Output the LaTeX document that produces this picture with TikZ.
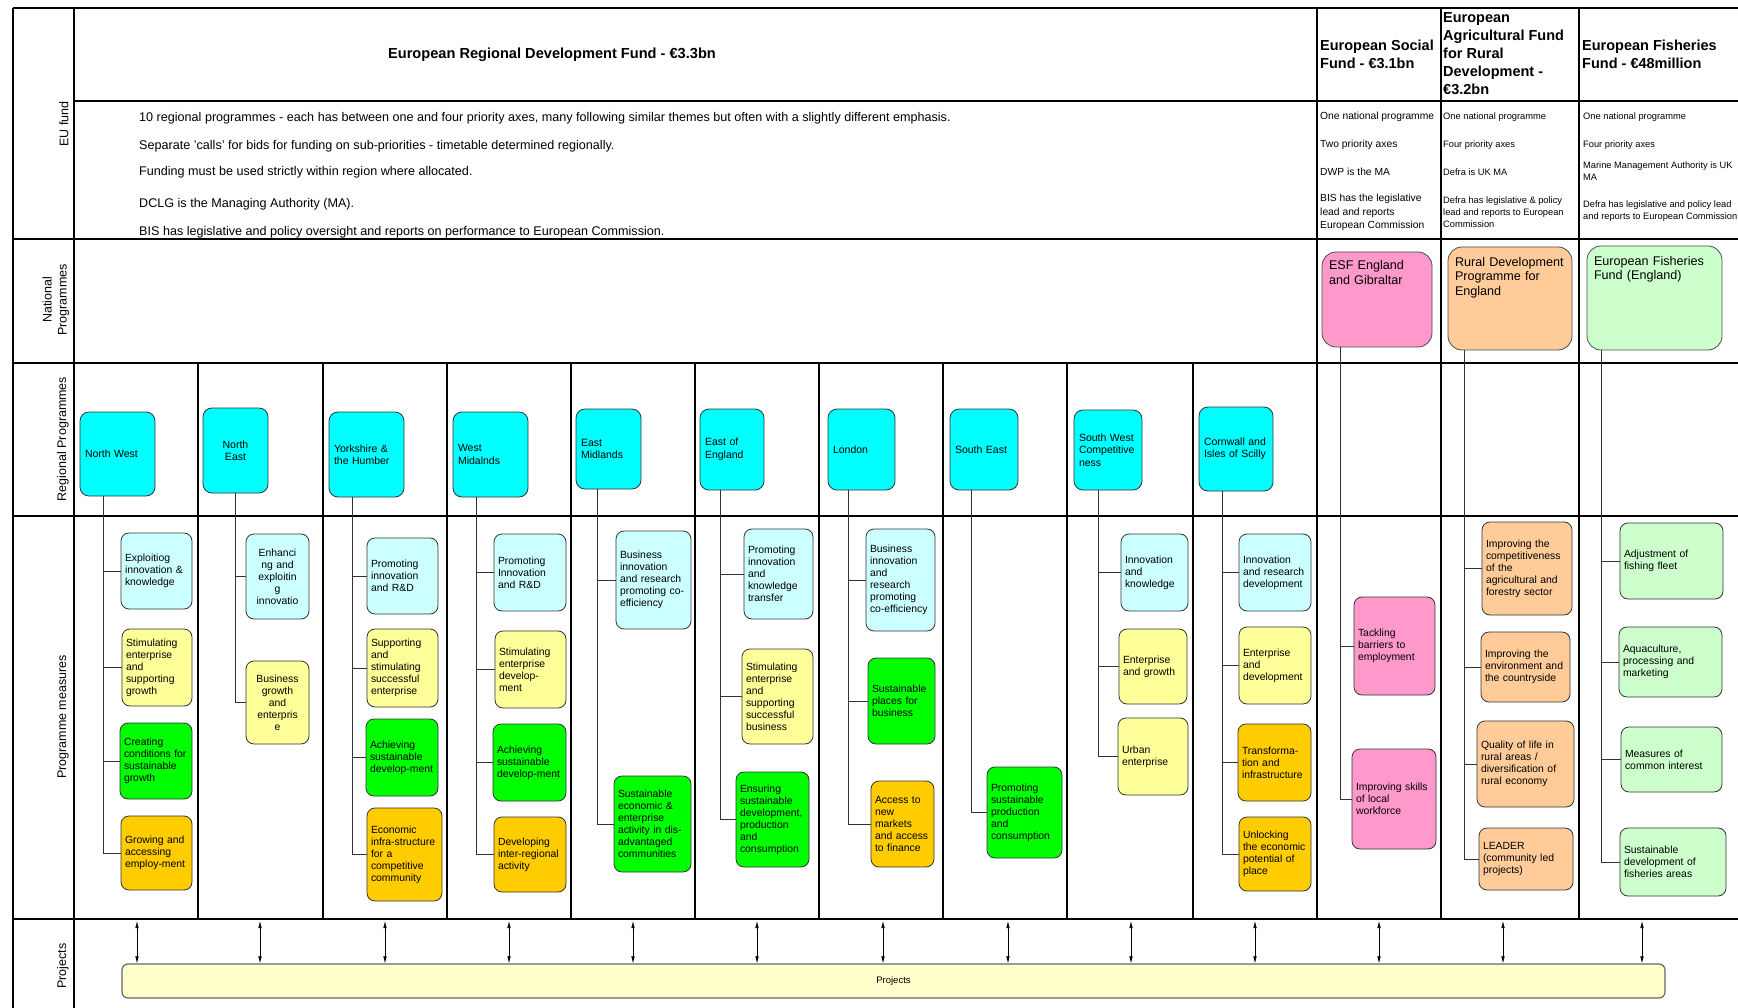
\documentclass[tikz,border=0pt]{standalone}
\usepackage{fontspec}
\setmainfont{Liberation Sans}
\usetikzlibrary{arrows.meta}
\hyphenpenalty=10000
\exhyphenpenalty=10000
\definecolor{regcyan}{HTML}{00FFFF}
\definecolor{mcyan}{HTML}{CCFFFF}
\definecolor{myellow}{HTML}{FFFF99}
\definecolor{mgreen}{HTML}{00FF00}
\definecolor{morange}{HTML}{FFCC00}
\definecolor{mpink}{HTML}{FF99CC}
\definecolor{mpeach}{HTML}{FFCC99}
\definecolor{mlgreen}{HTML}{CCFFCC}
\definecolor{prjyellow}{HTML}{FFFFCC}
\tikzset{
  gridline/.style={line width=1.5pt},
  feed/.style={draw=black!80, line width=0.8pt},
  twoway/.style={{Latex[length=7pt,width=3.5pt]}-{Latex[length=7pt,width=3.5pt]}, line width=0.6pt},
  rowlabel/.style={rotate=90, align=center, inner sep=0pt, font=\fontsize{12.5}{15}\selectfont},
  fundhead/.style={anchor=west, align=left, inner sep=0pt, font=\bfseries\fontsize{14.5}{18}\selectfont},
  erdfnote/.style={anchor=west, inner sep=0pt, font=\fontsize{12.6}{15}\selectfont},
  esfnote/.style={anchor=west, align=left, inner sep=0pt, font=\fontsize{10.3}{13.5}\selectfont},
  fundnote/.style={anchor=west, align=left, inner sep=0pt, font=\fontsize{9.3}{11.8}\selectfont},
  regbox/.style={draw=black!80, line width=0.8pt, fill=regcyan, rounded corners=9pt, align=left, inner xsep=5pt, font=\fontsize{10.5}{12.5}\selectfont},
  natbox/.style={draw=black!70, line width=0.8pt, rounded corners=14pt, align=left, inner xsep=7pt, text height=10pt, font=\fontsize{12.6}{14.5}\selectfont},
  measure/.style={draw=black!80, line width=0.8pt, rounded corners=8pt, align=left, inner xsep=4pt, font=\fontsize{10.4}{12}\selectfont}
}
\begin{document}
\begin{tikzpicture}[x=1pt,y=-1pt]
\useasboundingbox (0,0) rectangle (1738,1008);
\draw[gridline] (13,8) -- (1738,8);
\draw[gridline] (74,101) -- (1738,101);
\draw[gridline] (13,239) -- (1738,239);
\draw[gridline] (13,363) -- (1738,363);
\draw[gridline] (13,516) -- (1738,516);
\draw[gridline] (13,919) -- (1738,919);
\draw[gridline] (13,8) -- (13,1008);
\draw[gridline] (74,8) -- (74,1008);
\foreach \x in {1317,1441,1579}
  \draw[gridline] (\x,8) -- (\x,919);
\foreach \x in {198,323,447,571,695,819,943,1067,1193}
  \draw[gridline] (\x,363) -- (\x,919);

\node[rowlabel] (lbeu) at (64,124) {EU fund};
\node[rowlabel] (lbnat) at (56,300) {National\\Programmes};
\node[rowlabel] (lbreg) at (63,439) {Regional Programmes};
\node[rowlabel] (lbmeas) at (63,717) {Programme measures};
\node[rowlabel] (lbprj) at (63,966) {Projects};

\node[inner sep=0pt, font=\bfseries\fontsize{14.6}{17}\selectfont] (erdf) at (552,55) {European Regional Development Fund - €3.3bn};
\node[erdfnote] (erdf1) at (139,118) {10 regional programmes - each has between one and four priority axes, many following similar themes but often with a slightly different emphasis.};
\node[erdfnote] (erdf2) at (139,146) {Separate 'calls' for bids for funding on sub-priorities - timetable determined regionally.};
\node[erdfnote] (erdf3) at (139,172) {Funding must be used strictly within region where allocated.};
\node[erdfnote] (erdf4) at (139,204) {DCLG is the Managing Authority (MA).};
\node[erdfnote] (erdf5) at (139,232) {BIS has legislative and policy oversight and reports on performance to European Commission.};

\node[fundhead] (esfh) at (1320,54.5) {European Social\\Fund - €3.1bn};
\node[fundhead] (rdph) at (1443,54) {European\\Agricultural Fund\\for Rural\\Development -\\€3.2bn};
\node[fundhead] (effh) at (1582,54.5) {European Fisheries\\Fund - €48million};

\node[esfnote] (esf1) at (1320,117) {One national programme};
\node[esfnote] (esf2) at (1320,145) {Two priority axes};
\node[esfnote] (esf3) at (1320,172) {DWP is the MA};
\node[esfnote] (esf4) at (1320,212.5) {BIS has the legislative\\lead and reports\\European Commission};
\node[fundnote] (rdp1) at (1443,117) {One national programme};
\node[fundnote] (rdp2) at (1443,145) {Four priority axes};
\node[fundnote] (rdp3) at (1443,172) {Defra is UK MA};
\node[fundnote] (rdp4) at (1443,212) {Defra has legislative \& policy\\lead and reports to European\\Commission};
\node[fundnote] (eff1) at (1583,117) {One national programme};
\node[fundnote] (eff2) at (1583,145) {Four priority axes};
\node[fundnote] (eff3) at (1583,171.5) {Marine Management Authority is UK\\MA};
\node[fundnote] (eff4) at (1583,211) {Defra has legislative and policy lead\\and reports to European Commission};

\node[natbox, fill=mpink, text width=96pt, inner ysep=8pt, text depth=69pt] (esf) at (1377,299.5) {ESF England\\and Gibraltar};
\node[natbox, fill=mpeach, text width=110pt, inner ysep=9.5pt, text depth=74pt] (rdp) at (1510,298.5) {Rural Development\\Programme for\\England};
\node[natbox, fill=mlgreen, text width=121pt, inner ysep=9.5pt, text depth=75pt] (eff) at (1654.5,298) {European Fisheries\\Fund (England)};

\node[regbox, text width=65pt, minimum height=84] (nw) at (117.5,454) {North West};
\node[regbox, text width=55pt, minimum height=85, align=center] (ne) at (235.5,450.5) {North\\East};
\node[regbox, text width=65pt, minimum height=85] (yh) at (366.5,454.5) {Yorkshire \&\\the Humber};
\node[regbox, text width=65pt, minimum height=85] (wm) at (490.5,454.5) {West\\Midalnds};
\node[regbox, text width=55pt, minimum height=80] (em) at (608.5,449) {East\\Midlands};
\node[regbox, text width=54pt, minimum height=81] (ee) at (732,449.5) {East of\\England};
\node[regbox, text width=57pt, minimum height=81] (ld) at (861.5,449.5) {London};
\node[regbox, text width=58pt, minimum height=81] (se) at (984,449.5) {South East};
\node[regbox, text width=58pt, minimum height=80] (sw) at (1108,450) {South West\\Competitive\\ness};
\node[regbox, text width=64pt, minimum height=84] (ci) at (1236,449) {Cornwall and\\Isles of Scilly};

\node[measure, fill=mcyan, text width=63pt, minimum height=76] (nw1) at (156.5,571) {Exploitiog\\innovation \&\\knowledge};
\node[measure, fill=myellow, text width=62pt, minimum height=77] (nw2) at (157,667.5) {Stimulating\\enterprise\\and\\supporting\\growth};
\node[measure, fill=mgreen, text width=64pt, minimum height=76] (nw3) at (156,761) {Creating\\conditions for\\sustainable\\growth};
\node[measure, fill=morange, text width=63pt, minimum height=74] (nw4) at (156.5,853) {Growing and\\accessing\\employ-ment};

\node[measure, fill=mcyan, text width=55pt, minimum height=85, align=center] (ne1) at (277.5,576.5) {Enhanci\\ng and\\exploitin\\g\\innovatio};
\node[measure, fill=myellow, text width=55pt, minimum height=83, align=center] (ne2) at (277.5,702.5) {Business\\growth\\and\\enterpris\\e};

\node[measure, fill=mcyan, text width=63pt, minimum height=76] (yh1) at (402.5,576) {Promoting\\innovation\\and R\&D};
\node[measure, fill=myellow, text width=63pt, minimum height=78] (yh2) at (402.5,668) {Supporting\\and\\stimulating\\successful\\enterprise};
\node[measure, fill=mgreen, text width=64pt, minimum height=77] (yh3) at (402,757.5) {Achieving\\sustainable\\develop-ment};
\node[measure, fill=morange, text width=67pt, minimum height=93] (yh4) at (404.5,854.5) {Economic\\infra-structure\\for a\\competitive\\community};

\node[measure, fill=mcyan, text width=64pt, minimum height=77] (wm1) at (530,572.5) {Promoting\\Innovation\\and R\&D};
\node[measure, fill=myellow, text width=63pt, minimum height=77] (wm2) at (530.5,669.5) {Stimulating\\enterprise\\develop-\\ment};
\node[measure, fill=mgreen, text width=65pt, minimum height=77] (wm3) at (529.5,762.5) {Achieving\\sustainable\\develop-ment};
\node[measure, fill=morange, text width=64pt, minimum height=75] (wm4) at (530,854.5) {Developing\\inter-regional\\activity};

\node[measure, fill=mcyan, text width=67pt, minimum height=98] (em1) at (653.5,580) {Business\\innovation\\and research\\promoting co-\\efficiency};
\node[measure, fill=mgreen, text width=69pt, minimum height=96] (em2) at (652.5,824) {Sustainable\\economic \&\\enterprise\\activity in dis-\\advantaged\\communities};

\node[measure, fill=mcyan, text width=61pt, minimum height=90] (ee1) at (778.5,574) {Promoting\\innovation\\and\\knowledge\\transfer};
\node[measure, fill=myellow, text width=63pt, minimum height=95] (ee2) at (777.5,696.5) {Stimulating\\enterprise\\and\\supporting\\successful\\business};
\node[measure, fill=mgreen, text width=65pt, minimum height=95] (ee3) at (772.5,819.5) {Ensuring\\sustainable\\development,\\production\\and\\consumption};

\node[measure, fill=mcyan, text width=61pt, minimum height=102] (ld1) at (900.5,580) {Business\\innovation\\and\\research\\promoting\\co-efficiency};
\node[measure, fill=mgreen, text width=59pt, minimum height=86] (ld2) at (901.5,701) {Sustainable\\places for\\business};
\node[measure, fill=morange, text width=55pt, minimum height=86] (ld3) at (902.5,824) {Access to\\new\\markets\\and access\\to finance};

\node[measure, fill=mgreen, text width=67pt, minimum height=91] (se1) at (1024.5,812.5) {Promoting\\sustainable\\production\\and\\consumption};

\node[measure, fill=mcyan, text width=59pt, minimum height=77] (sw1) at (1154.5,572.5) {Innovation\\and\\knowledge};
\node[measure, fill=myellow, text width=60pt, minimum height=75] (sw2) at (1153,666.5) {Enterprise\\and growth};
\node[measure, fill=myellow, text width=62pt, minimum height=77] (sw3) at (1153,756.5) {Urban\\enterprise};

\node[measure, fill=mcyan, text width=64pt, minimum height=77] (ci1) at (1275,572.5) {Innovation\\and research\\development};
\node[measure, fill=myellow, text width=64pt, minimum height=77] (ci2) at (1275,665.5) {Enterprise\\and\\development};
\node[measure, fill=morange, text width=65pt, minimum height=77] (ci3) at (1274.5,762.5) {Transforma-\\tion and\\infrastructure};
\node[measure, fill=morange, text width=64pt, minimum height=74] (ci4) at (1275,854) {Unlocking\\the economic\\potential of\\place};

\node[measure, fill=mpink, text width=73pt, minimum height=98] (es1) at (1394.5,646) {Tackling\\barriers to\\employment};
\node[measure, fill=mpink, text width=76pt, minimum height=100] (es2) at (1394,799) {Improving skills\\of local\\workforce};

\node[measure, fill=mpeach, text width=82pt, minimum height=93] (rd1) at (1527,568.5) {Improving the\\competitiveness\\of the\\agricultural and\\forestry sector};
\node[measure, fill=mpeach, text width=81pt, minimum height=70] (rd2) at (1525.5,667) {Improving the\\environment and\\the countryside};
\node[measure, fill=mpeach, text width=89pt, minimum height=86] (rd3) at (1525.5,764) {Quality of life in\\rural areas /\\diversification of\\rural economy};
\node[measure, fill=mpeach, text width=86pt, minimum height=62] (rd4) at (1526,859) {LEADER\\(community led\\projects)};

\node[measure, fill=mlgreen, text width=95pt, minimum height=76] (ef1) at (1671.5,561) {Adjustment of\\fishing fleet};
\node[measure, fill=mlgreen, text width=95pt, minimum height=70] (ef2) at (1670.5,662) {Aquaculture,\\processing and\\marketing};
\node[measure, fill=mlgreen, text width=93pt, minimum height=65] (ef3) at (1671.5,759.5) {Measures of\\common interest};
\node[measure, fill=mlgreen, text width=98pt, minimum height=68] (ef4) at (1673,862) {Sustainable\\development of\\fisheries areas};

\foreach \m in {nw1,nw2,nw3,nw4}
  \draw[feed] (103,0 |- nw.south) |- (\m.west);
\foreach \m in {ne1,ne2}
  \draw[feed] (235,0 |- ne.south) |- (\m.west);
\foreach \m in {yh1,yh2,yh3,yh4}
  \draw[feed] (352,0 |- yh.south) |- (\m.west);
\foreach \m in {wm1,wm2,wm3,wm4}
  \draw[feed] (476,0 |- wm.south) |- (\m.west);
\foreach \m in {em1,em2}
  \draw[feed] (597,0 |- em.south) |- (\m.west);
\foreach \m in {ee1,ee2,ee3}
  \draw[feed] (720,0 |- ee.south) |- (\m.west);
\foreach \m in {ld1,ld2,ld3}
  \draw[feed] (848,0 |- ld.south) |- (\m.west);
\draw[feed] (971,0 |- se.south) |- (se1.west);
\foreach \m in {sw1,sw2,sw3}
  \draw[feed] (1098,0 |- sw.south) |- (\m.west);
\foreach \m in {ci1,ci2,ci3,ci4}
  \draw[feed] (1222,0 |- ci.south) |- (\m.west);
\foreach \m in {es1,es2}
  \draw[feed] (1340,0 |- esf.south) |- (\m.west);
\foreach \m in {rd1,rd2,rd3,rd4}
  \draw[feed] (1464,0 |- rdp.south) |- (\m.west);
\foreach \m in {ef1,ef2,ef3,ef4}
  \draw[feed] (1601,0 |- eff.south) |- (\m.west);

\node[draw=black!60, line width=1.2pt, fill=prjyellow, rounded corners=6pt, minimum width=1543, minimum height=34, inner sep=0pt, font=\fontsize{9.5}{11}\selectfont] (prj) at (893.5,981) {Projects};
\foreach \x in {137,260,385,509,633,757,883,1008,1131,1255,1379,1503,1642}
  \draw[twoway] (\x,921) -- (\x,0 |- prj.north);
\end{tikzpicture}
\end{document}
